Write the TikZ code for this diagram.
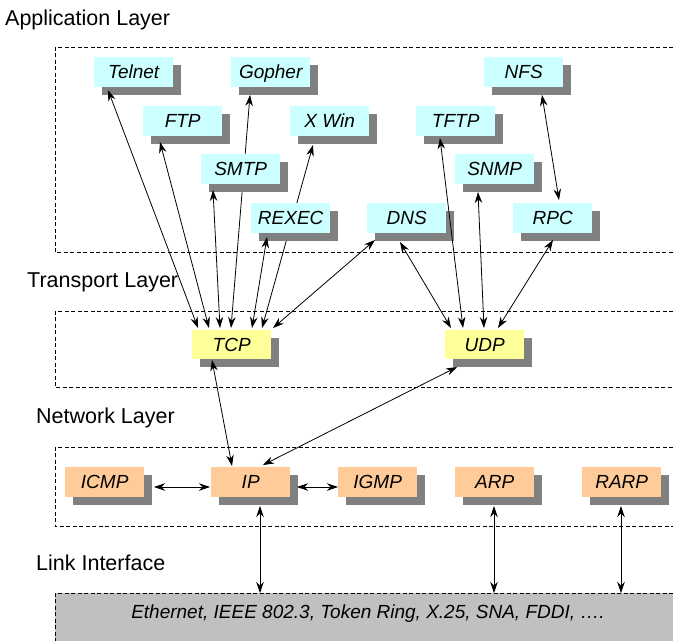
\documentclass[tikz,border=0pt]{standalone}
\usepackage{fontspec}
\setmainfont{Liberation Sans}
\usetikzlibrary{arrows.meta,shadows,calc}
\pgfdeclarelayer{background}
\pgfsetlayers{background,main}
\definecolor{appcol}{HTML}{CCFFFF}
\definecolor{transcol}{HTML}{FFFF99}
\definecolor{netcol}{HTML}{FFCC99}
\definecolor{shadecol}{HTML}{808080}
\definecolor{linkcol}{HTML}{C0C0C0}
\newcommand\myboxfont{\fontsize{19}{21}\selectfont\itshape}
\newcommand\mylayerfont{\fontsize{21.5}{24}\selectfont}
\tikzset{
  protobox/.style={minimum width=79pt, minimum height=30pt, inner sep=0pt, anchor=north west,
    text height=13.5pt, text depth=0pt, font=\myboxfont,
    drop shadow={shadow xshift=8pt, shadow yshift=-8pt, fill=shadecol, opacity=1}},
  appbox/.style={protobox, fill=appcol},
  transbox/.style={protobox, fill=transcol, minimum height=29pt},
  netbox/.style={protobox, fill=netcol},
  dbl/.style={{Stealth[length=11pt,width=7.5pt]}-{Stealth[length=11pt,width=7.5pt]}, line width=0.8pt},
  dashedframe/.style={draw, dash pattern=on 4pt off 2.5pt, line width=0.8pt},
  layerlabel/.style={anchor=base west, inner sep=0pt, font=\mylayerfont},
}
\begin{document}
\begin{tikzpicture}[x=1pt,y=-1pt]
\useasboundingbox (0,0) rectangle (673,641);
% layer frames
\draw[dashedframe] (673,47) -- (55,47) -- (55,252) -- (673,252);
\draw[dashedframe] (673,311) -- (55,311) -- (55,387) -- (673,387);
\draw[dashedframe] (673,447) -- (55,447) -- (55,526) -- (673,526);
\fill[linkcol] (55,593) rectangle (673,641);
\draw[dashedframe] (673,593) -- (55,593) -- (55,641);
\coordinate (linktop) at (55,593);
% layer labels
\node[layerlabel] (lapp) at (5,25) {Application Layer};
\node[layerlabel] (ltrans) at (27,287) {Transport Layer};
\node[layerlabel] (lnet) at (36,423) {Network Layer};
\node[layerlabel] (llink) at (36,570) {Link Interface};
% application boxes
\node[appbox] (telnet) at (94,57) {Telnet};
\node[appbox] (gopher) at (231,57) {Gopher};
\node[appbox] (nfs) at (484,57) {NFS};
\node[appbox] (ftp) at (143,106) {FTP};
\node[appbox] (xwin) at (290,106) {X Win};
\node[appbox] (tftp) at (416,106) {TFTP};
\node[appbox] (smtp) at (201,154) {SMTP};
\node[appbox] (snmp) at (455,154) {SNMP};
\node[appbox] (rexec) at (251,203) {REXEC};
\node[appbox] (dns) at (367,203) {DNS};
\node[appbox] (rpc) at (513,203) {RPC};
% transport boxes
\node[transbox] (tcp) at (192,330) {TCP};
\node[transbox] (udp) at (445,330) {UDP};
% network boxes
\node[netbox] (icmp) at (65,467) {ICMP};
\node[netbox] (ip) at (211,467) {IP};
\node[netbox] (igmp) at (338,467) {IGMP};
\node[netbox] (arp) at (455,467) {ARP};
\node[netbox] (rarp) at (582,467) {RARP};
% link text
\node[font=\myboxfont, inner sep=0pt, text height=13.5pt, text depth=0pt] (link) at (368,612) {Ethernet, IEEE 802.3, Token Ring, X.25, SNA, FDDI, \dots.};
% connectors hidden behind boxes
\begin{pgfonlayer}{background}
\draw[dbl] ($(gopher.north west)+(19,38)$) -- ($(tcp.north west)+(39,-2)$);
\draw[dbl] ($(xwin.north west)+(23,39)$) -- ($(tcp.north west)+(70,-2)$);
\end{pgfonlayer}
% connectors
\draw[dbl] ($(telnet.north west)+(14,33)$) -- ($(tcp.north west)+(6,-2)$);
\draw[dbl] ($(ftp.north west)+(17,36)$) -- ($(tcp.north west)+(17,-2)$);
\draw[dbl] ($(smtp.north west)+(12,36)$) -- ($(tcp.north west)+(28,-2)$);
\draw[dbl] ($(rexec.north west)+(16,34)$) -- ($(tcp.north west)+(60,-2)$);
\draw[dbl] ($(dns.north west)+(8,37)$) -- ($(tcp.north west)+(81,-2)$);
\draw[dbl] ($(dns.north west)+(33,39)$) -- ($(udp.north west)+(6,-2)$);
\draw[dbl] ($(tftp.north west)+(24,32)$) -- ($(udp.north west)+(18,-2)$);
\draw[dbl] ($(snmp.north west)+(23,38)$) -- ($(udp.north west)+(39,-2)$);
\draw[dbl] ($(rpc.north west)+(40,37)$) -- ($(udp.north west)+(53,-2)$);
\draw[dbl] ($(nfs.north west)+(58,38)$) -- ($(rpc.north west)+(46,-3)$);
\draw[dbl] ($(tcp.north west)+(20,30)$) -- ($(ip.north west)+(21,-1)$);
\draw[dbl] ($(udp.north west)+(12,37)$) -- ($(ip.north west)+(52,-2)$);
\draw[dbl] ($(icmp.north west)+(89,20)$) -- ($(ip.north west)+(-1,20)$);
\draw[dbl] ($(ip.north west)+(86,20)$) -- ($(igmp.north west)+(0,20)$);
\draw[dbl] ($(ip.north west)+(49,39)$) coordinate (ipb) -- (ipb |- linktop);
\draw[dbl] ($(arp.north west)+(39,39)$) coordinate (arpb) -- (arpb |- linktop);
\draw[dbl] ($(rarp.north west)+(39,39)$) coordinate (rarpb) -- (rarpb |- linktop);
\end{tikzpicture}
\end{document}
